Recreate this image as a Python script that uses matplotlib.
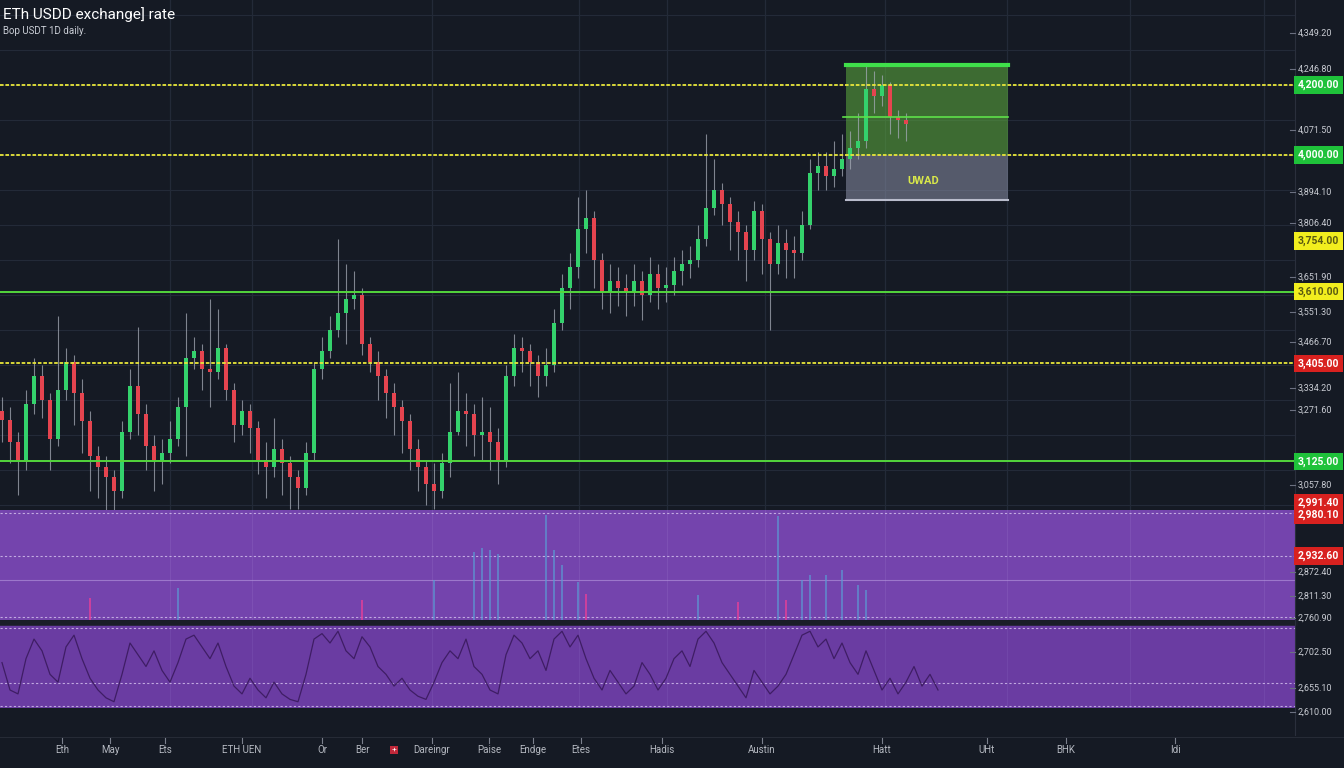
import numpy as np
import matplotlib
matplotlib.use('Agg')
import matplotlib.pyplot as plt
import matplotlib.transforms as mtransforms
from matplotlib.patches import Rectangle

plt.rcParams['font.family'] = ['Roboto', 'DejaVu Sans']

# --- données ---
first_open = 3270
closes = [3243, 3180, 3130, 3290, 3370, 3300, 3190, 3330, 3410, 3320,
          3240, 3140, 3110, 3080, 3040, 3210, 3340, 3260, 3170, 3130,
          3150, 3190, 3280, 3420, 3440, 3390, 3380, 3450, 3330, 3230,
          3270, 3220, 3130, 3110, 3160, 3120, 3080, 3050, 3150, 3390,
          3440, 3500, 3550, 3590, 3600, 3460, 3410, 3370, 3320, 3280,
          3240, 3160, 3110, 3060, 3040, 3120, 3210, 3270, 3260, 3200,
          3210, 3180, 3130, 3370, 3450, 3440, 3410, 3370, 3400, 3520,
          3620, 3680, 3790, 3820, 3700, 3610, 3640, 3620, 3610, 3640,
          3600, 3660, 3620, 3630, 3670, 3690, 3700, 3760, 3850, 3900,
          3860, 3810, 3780, 3730, 3840, 3760, 3690, 3750, 3730, 3720,
          3800, 3950, 3970, 3940, 3960, 3990, 4020, 4040, 4190, 4170,
          4200, 4110, 4100, 4090]
highs = [3310, 3280, 3210, 3330, 3420, 3400, 3320, 3540, 3450, 3430,
         3360, 3270, 3170, 3140, 3100, 3240, 3390, 3510, 3290, 3200,
         3190, 3240, 3310, 3550, 3480, 3460, 3590, 3560, 3460, 3350,
         3300, 3290, 3240, 3180, 3250, 3190, 3140, 3100, 3180, 3410,
         3480, 3540, 3760, 3690, 3670, 3620, 3480, 3440, 3390, 3350,
         3300, 3260, 3190, 3130, 3120, 3150, 3350, 3380, 3320, 3290,
         3310, 3280, 3220, 3400, 3490, 3480, 3460, 3430, 3450, 3560,
         3660, 3720, 3880, 3900, 3840, 3720, 3690, 3680, 3660, 3690,
         3670, 3710, 3690, 3680, 3710, 3730, 3740, 3800, 4060, 3990,
         3920, 3880, 3840, 3800, 3870, 3860, 3780, 3800, 3790, 3770,
         3840, 3990, 4010, 4010, 4040, 4060, 4070, 4120, 4260, 4240,
         4230, 4210, 4130, 4120]
lows = [3180, 3120, 3030, 3100, 3260, 3250, 3100, 3170, 3300, 3230,
        3150, 3040, 3020, 2960, 2900, 3020, 3190, 3200, 3100, 3040,
        3060, 3120, 3170, 3140, 3390, 3330, 3280, 3360, 3300, 3180,
        3200, 3150, 3090, 3020, 3080, 3030, 2990, 2990, 3030, 3130,
        3360, 3420, 3480, 3460, 3560, 3430, 3380, 3300, 3250, 3200,
        3150, 3100, 3040, 3000, 2990, 3020, 3080, 3200, 3170, 3140,
        3130, 3100, 3060, 3110, 3340, 3380, 3340, 3310, 3340, 3380,
        3500, 3560, 3650, 3720, 3620, 3560, 3550, 3570, 3540, 3570,
        3530, 3580, 3560, 3580, 3600, 3630, 3650, 3680, 3740, 3830,
        3800, 3730, 3700, 3640, 3700, 3660, 3500, 3660, 3650, 3650,
        3700, 3790, 3900, 3900, 3910, 3940, 3960, 3990, 4020, 4120,
        4140, 4060, 4050, 4040]

# niveaux horizontaux
yellow_levels = [4200, 4000, 3405]
green_levels = [3610, 3125]

# pics de volume (indice de bougie, hauteur)
vol_idx = [22, 54, 59, 60, 61, 62, 68, 69, 70, 72, 87, 97, 100, 101, 103, 105, 107, 108]
vol_val = [32, 40, 68, 72, 70, 66, 105, 70, 55, 38, 25, 104, 40, 45, 45, 50, 35, 30]
mag_idx = [11, 45, 73, 92, 98]
mag_val = [22, 20, 26, 18, 20]

# oscillateur (panneau du bas)
osc = [55, 20, 15, 60, 85, 70, 40, 30, 75, 90, 60, 35, 20, 10, 5, 40, 80, 65, 50, 70,
       45, 30, 55, 85, 90, 75, 60, 80, 50, 25, 15, 35, 20, 10, 30, 15, 8, 5, 40, 85,
       92, 80, 95, 70, 60, 88, 75, 50, 40, 25, 35, 20, 12, 8, 30, 55, 70, 60, 85, 50,
       40, 20, 15, 65, 90, 80, 60, 70, 45, 85, 95, 75, 90, 60, 35, 20, 45, 30, 15, 25,
       55, 40, 20, 35, 60, 70, 50, 85, 95, 80, 55, 40, 25, 10, 45, 30, 15, 25, 40, 65,
       90, 95, 75, 85, 60, 80, 55, 40, 70, 45, 20, 35, 15, 30, 50, 25, 40, 20]

# étiquettes
right_grey = ['4,349.20', '4,246.80', '4,071.50', '3,894.10', '3,806.40', '3,651.90',
              '3,551.30', '3,466.70', '3,334.20', '3,271.60', '3,057.80']
right_grey_px = [33, 69, 130, 192, 223, 277, 312, 342, 388, 410, 485]
panel_grey = ['2,872.40', '2,811.30', '2,760.90', '2,702.50', '2,655.10', '2,610.00']
panel_grey_px = [572, 596, 618, 652, 688, 712]
x_labels = ['Eth', 'May', 'Ets', 'ETH UEN', 'Or', 'Ber', 'Dareingr', 'Paise', 'Endge',
            'Etes', 'Hadis', 'Austin', 'Hatt', 'UHt', 'BHK', 'Idi']
x_label_px = [62, 110, 165, 242, 322, 362, 432, 489, 533, 581, 662, 762, 882, 987, 1066, 1175]

BG = '#151a24'
GRID = '#232a38'
UP = '#34d26c'
DOWN = '#e5444f'

W, H = 1344, 768
fig = plt.figure(figsize=(W / 100, H / 100), dpi=100, facecolor=BG)

def fy(px):
    return 1 - px / H

xr = 1295 / W
ax = fig.add_axes([0, fy(510), xr, 510 / H], facecolor=BG)
ax1 = fig.add_axes([0, fy(620), xr, 110 / H], facecolor='#7444ad')
ax2 = fig.add_axes([0, fy(708), xr, 83 / H], facecolor='#6a3ca2')

xmax = 1295 / 8 - 0.25
for a in (ax, ax1, ax2):
    a.set_xlim(-0.25, xmax)
    a.set_xticks([])
    a.set_yticks([])
    for s in a.spines.values():
        s.set_visible(False)

ax.set_ylim(2986, 4443)
ax1.set_ylim(0, 110)
ax2.set_ylim(-3, 103)

# grille
vgrid = [21, 31.25, 53.75, 72.1, 83.1, 95.4, 110.4, 125.6, 141, 157.75]
for v in vgrid:
    ax.axvline(v, color=GRID, lw=0.9, zorder=0)
    ax1.axvline(v, color='#8a62c0', lw=0.6, alpha=0.5, zorder=0)
    ax2.axvline(v, color='#7d55b5', lw=0.6, alpha=0.5, zorder=0)
for p in np.arange(3000, 4450, 100):
    ax.axhline(p, color=GRID, lw=0.8, zorder=0)

# bougies
idx = np.arange(len(closes))
opens = np.array([first_open] + closes[:-1])
closes_a = np.array(closes)
up = closes_a >= opens
ax.vlines(idx, lows, highs, color='#a3a9b4', lw=0.8, alpha=0.75, zorder=2)
ax.bar(idx[up], closes_a[up] - opens[up], bottom=opens[up], width=0.5,
       color=UP, zorder=3)
ax.bar(idx[~up], opens[~up] - closes_a[~up], bottom=closes_a[~up], width=0.5,
       color=DOWN, zorder=3)

# zone de position
x0, x1 = 846 / 8 - 0.25, 1008 / 8 - 0.25
ax.add_patch(Rectangle((x0, 4000), x1 - x0, 257, facecolor='#5fae3f', alpha=0.55,
                       edgecolor='none', zorder=1))
ax.add_patch(Rectangle((x0, 3871), x1 - x0, 129, facecolor='#8a8fa6', alpha=0.55,
                       edgecolor='none', zorder=1))
ax.plot([x0, x1], [4257, 4257], color='#3fe04a', lw=3, zorder=4)
ax.plot([x0, x1], [3871, 3871], color='#b9bccc', lw=1.5, zorder=4)
ax.plot([x0 - 0.4, x1], [4109, 4109], color='#5ee04a', lw=1.2, zorder=4)
ax.text((x0 + x1) / 2 - 0.5, 3925, 'UWAD', color='#d9e84a', fontsize=8,
        fontweight='bold', ha='center', va='center', zorder=5)

# niveaux
for lv in yellow_levels:
    ax.axhline(lv, color='#e8e63a', lw=1.3, ls=(0, (2, 1)), zorder=4)
for lv in green_levels:
    ax.axhline(lv, color='#53d63c', lw=1.4, zorder=4)

# panneau volume
for p in [107, 64, 3]:
    ax1.axhline(p, color='#d7c4f0', lw=0.8, ls=(0, (2, 2)), alpha=0.8)
ax1.axhline(40, color='#b79ae0', lw=0.8, alpha=0.6)
ax1.bar(vol_idx, vol_val, width=0.35, color='#5a9bd5', alpha=0.65, zorder=3)
ax1.bar(mag_idx, mag_val, width=0.2, color='#e0409a', alpha=0.8, zorder=3)

# panneau oscillateur
for p in [99, 29, 0]:
    ax2.axhline(p, color='#d7c4f0', lw=0.8, ls=(0, (2, 2)), alpha=0.8)
ax2.plot(np.arange(len(osc)), osc, color='#3a1a5e', lw=0.9, alpha=0.9, zorder=3)

# séparateurs
fig.add_artist(plt.Line2D([0, xr], [fy(622.5), fy(622.5)], color='#1b1e28', lw=4))
fig.add_artist(plt.Line2D([xr, xr], [fy(735), 1], color='#2a2f3c', lw=0.8))
fig.add_artist(plt.Line2D([0, 1], [fy(737), fy(737)], color='#262b36', lw=0.8))

# titre
fig.text(0.002, fy(15), 'ETh USDD exchange] rate', color='white', fontsize=11,
         va='center', ha='left')
fig.text(0.002, fy(31), 'Bop USDT 1D daily.', color='#c8ccd4', fontsize=7,
         va='center', ha='left')

# étiquettes de droite
tr = mtransforms.blended_transform_factory(fig.transFigure, ax.transData)
lx = 1298 / W
for t, px in zip(right_grey + panel_grey, right_grey_px + panel_grey_px):
    fig.text(lx, fy(px), t, color='#c9ccd3', fontsize=6.5, va='center', ha='left')
    fig.add_artist(plt.Line2D([xr - 0.004, xr], [fy(px), fy(px)], color='#6b7080', lw=0.8))


def tag(y, txt, fc, tc, transform):
    fig.text(lx, y, txt, color=tc, fontsize=7.5, fontweight='bold', va='center',
             ha='left', transform=transform,
             bbox=dict(boxstyle='square,pad=0.35', fc=fc, ec='none'))


tag(4200, '4,200.00', '#1fc23a', 'white', tr)
tag(4000, '4,000.00', '#1fc23a', 'white', tr)
tag(3754, '3,754.00', '#f2ee1e', '#5a5a10', tr)
tag(3610, '3,610.00', '#f2ee1e', '#5a5a10', tr)
tag(3405, '3,405.00', '#d8211f', 'white', tr)
tag(3125, '3,125.00', '#1fc23a', 'white', tr)
tag(fy(509), '2,991.40\n2,980.10', '#d8211f', 'white', fig.transFigure)
tag(fy(556), '2,932.60', '#d8211f', 'white', fig.transFigure)

# étiquettes axe x
for t, px in zip(x_labels, x_label_px):
    fig.text(px / W, fy(750), t, color='#b4b8c0', fontsize=7, ha='center', va='center')
    fig.add_artist(plt.Line2D([px / W, px / W], [fy(738), fy(743)], color='#7a7f8c', lw=0.8))
fig.text(394 / W, fy(750), '+', color='white', fontsize=6, ha='center', va='center',
         bbox=dict(boxstyle='square,pad=0.15', fc='#c0283a', ec='none'))

fig.savefig('out.png', dpi=100, facecolor=BG)
